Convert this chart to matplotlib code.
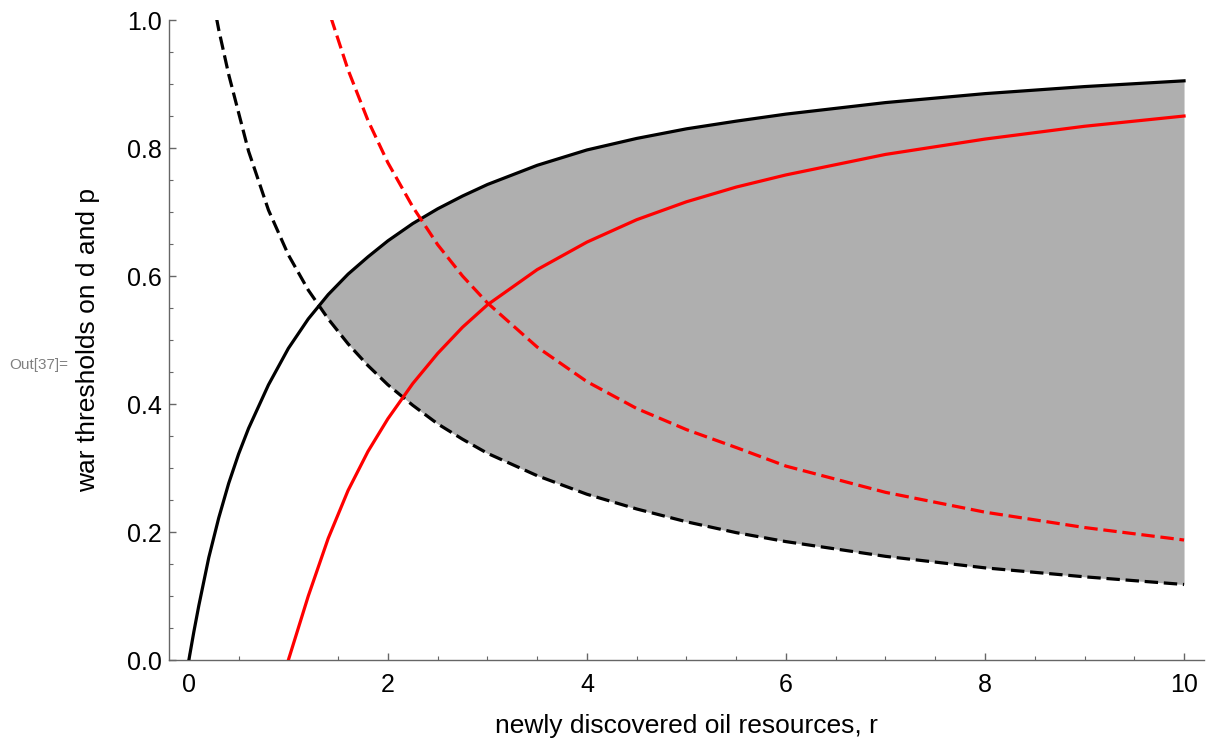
import numpy as np
import matplotlib
matplotlib.use("Agg")
import matplotlib.pyplot as plt
from matplotlib.ticker import MultipleLocator

plt.rcParams['font.family'] = ['Liberation Sans', 'DejaVu Sans']

nan = np.nan

r = [0.0, 0.05, 0.1, 0.2, 0.3, 0.4, 0.5, 0.6, 0.8, 1.0, 1.2, 1.4, 1.6, 1.8,
     2.0, 2.25, 2.5, 2.75, 3.0, 3.5, 4.0, 4.5, 5.0, 5.5, 6.0, 7.0, 8.0,
     9.0, 10.0]

# black solid (upper threshold)
black_solid = [0.0, 0.044, 0.085, 0.160, 0.222, 0.276, 0.322, 0.362, 0.430,
               0.487, 0.533, 0.571, 0.603, 0.630, 0.655, 0.682, 0.705,
               0.725, 0.743, 0.773, 0.797, 0.815, 0.830, 0.842, 0.853,
               0.871, 0.885, 0.896, 0.905]
# black dashed (lower threshold)
black_dashed = [nan, nan, nan, 1.066, 0.985, 0.915, 0.855, 0.795, 0.703,
                0.633, 0.578, 0.533, 0.494, 0.460, 0.430, 0.398, 0.369,
                0.345, 0.323, 0.288, 0.259, 0.236, 0.216, 0.199, 0.185,
                0.162, 0.144, 0.130, 0.118]
# red solid
red_solid = [nan, nan, nan, nan, nan, nan, nan, nan, nan, 0.0, 0.100, 0.190,
             0.265, 0.326, 0.377, 0.432, 0.479, 0.520, 0.555, 0.610, 0.653,
             0.688, 0.716, 0.739, 0.758, 0.790, 0.814, 0.834, 0.850]
# red dashed
red_dashed = [nan, nan, nan, nan, nan, nan, nan, nan, nan, nan, 1.134, 1.017,
              0.922, 0.843, 0.777, 0.708, 0.649, 0.600, 0.558, 0.489, 0.435,
              0.393, 0.360, 0.332, 0.303, 0.262, 0.231, 0.207, 0.1875]

r_arr = np.array(r)
bs = np.array(black_solid)
bd = np.array(black_dashed)

fig = plt.figure(figsize=(12.06, 7.42), dpi=100)
ax = fig.add_axes([0.1401, 0.1105, 0.8582, 0.8625])

# shaded region between the two black curves
ok = ~np.isnan(bd)
ax.fill_between(r_arr[ok], bd[ok], bs[ok], where=bs[ok] >= bd[ok],
                interpolate=True, color='#afafaf', linewidth=0, zorder=1)

lw = 2.3
ax.plot(r, black_solid, color='black', lw=lw, zorder=3)
ax.plot(r, black_dashed, color='black', lw=lw, dashes=(4.2, 1.8), zorder=3)
ax.plot(r, red_solid, color='#ff0000', lw=lw, zorder=3)
ax.plot(r, red_dashed, color='#ff0000', lw=lw, dashes=(4.2, 1.8), zorder=3)

ax.set_xlim(-0.2, 10.2)
ax.set_ylim(0, 1.0)

ax.xaxis.set_minor_locator(MultipleLocator(0.5))
ax.yaxis.set_minor_locator(MultipleLocator(0.05))
ax.set_xticks([0, 2, 4, 6, 8, 10])
ax.set_xticklabels(['0', '2', '4', '6', '8', '10'])
ax.set_yticks([0.0, 0.2, 0.4, 0.6, 0.8, 1.0])
ax.set_yticklabels(['0.0', '0.2', '0.4', '0.6', '0.8', '1.0'])

for side in ['top', 'right']:
    ax.spines[side].set_visible(False)
for side in ['left', 'bottom']:
    ax.spines[side].set_color('#666666')
    ax.spines[side].set_linewidth(1.0)

ax.tick_params(which='both', direction='in', color='#666666', labelsize=18)
ax.tick_params(which='major', length=5, width=1.0)
ax.tick_params(which='minor', length=3, width=0.8)
ax.tick_params(axis='x', pad=9)
ax.tick_params(axis='y', pad=5)

ax.set_xlabel('newly discovered oil resources, r', fontsize=19)
ax.set_ylabel('war thresholds on d and p', fontsize=19)
ax.xaxis.set_label_coords(0.5, -0.085)
ax.yaxis.set_label_coords(-0.067, 0.5)

fig.text(0.008, 0.508, 'Out[37]=', fontsize=11, color='#808080',
         va='center', ha='left')

plt.savefig('out.png', dpi=100)
